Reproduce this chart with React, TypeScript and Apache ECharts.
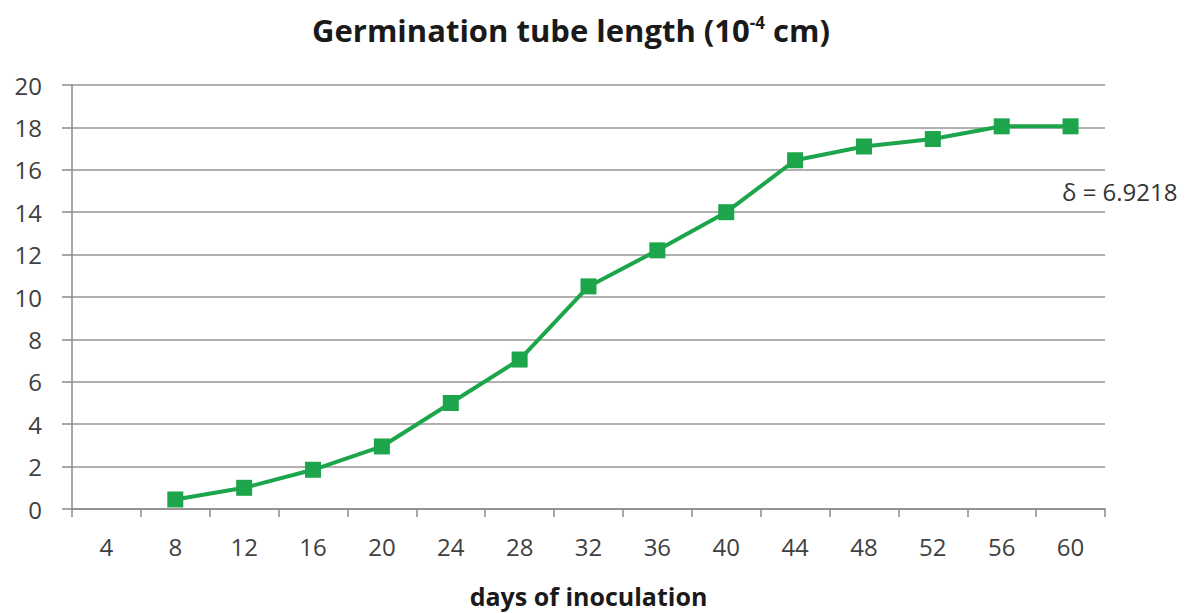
import React, { useEffect, useRef } from "react";
import * as echarts from "echarts";

const categories = ["4", "8", "12", "16", "20", "24", "28", "32", "36", "40", "44", "48", "52", "56", "60"];
const tubeLength: (number | null)[] = [null, 0.45, 1.0, 1.85, 2.95, 5.0, 7.05, 10.5, 12.2, 14.0, 16.45, 17.1, 17.45, 18.05, 18.05];
const annotationText = "δ = 6.9218";

export default function App() {
  const ref = useRef<HTMLDivElement>(null);
  useEffect(() => {
    if (!ref.current) return;
    const chart = echarts.init(ref.current, null, { renderer: "svg" });
    const font = "'Open Sans', Lato, sans-serif";
    chart.setOption({
      animation: false,
      backgroundColor: "#ffffff",
      title: {
        text: "{a|Germination tube length (10}{s|-4}{a| cm)}",
        left: 566,
        top: 9,
        textAlign: "center",
        textStyle: {
          rich: {
            a: { fontFamily: font, fontWeight: "bold", fontSize: 31, color: "#1a1a1a" },
            s: { fontFamily: font, fontWeight: "bold", fontSize: 17, color: "#1a1a1a", verticalAlign: "top", padding: [0, 0, 15, 0] },
          },
        },
      },
      graphic: [
        {
          type: "text",
          left: 1062,
          top: 179,
          style: { text: annotationText, fontFamily: font, fontSize: 24, fill: "#333333" },
        },
      ],
      grid: { left: 72, right: 87, top: 85, bottom: 103, containLabel: false },
      xAxis: {
        type: "category",
        data: categories,
        boundaryGap: true,
        name: "days of inoculation",
        nameLocation: "middle",
        nameGap: 74,
        nameTextStyle: { fontFamily: font, fontWeight: "bold", fontSize: 25, color: "#1a1a1a" },
        axisLine: { lineStyle: { color: "#8a8a8a", width: 1.5 } },
        axisTick: { show: true, length: 8, alignWithLabel: false, lineStyle: { color: "#8a8a8a", width: 1.5 } },
        axisLabel: { margin: 25, fontFamily: font, fontSize: 24, color: "#404040" },
        splitLine: { show: false },
      },
      yAxis: {
        type: "value",
        min: 0,
        max: 20,
        interval: 2,
        axisLine: { show: true, lineStyle: { color: "#8a8a8a", width: 1.5 } },
        axisTick: { show: true, inside: false, length: 10, lineStyle: { color: "#8a8a8a", width: 1.5 } },
        axisLabel: { margin: 30, fontFamily: font, fontSize: 24, color: "#404040" },
        splitLine: { show: true, lineStyle: { color: "#949494", width: 1.5 } },
      },
      series: [
        {
          type: "line",
          data: tubeLength,
          connectNulls: false,
          symbol: "rect",
          symbolSize: 16,
          lineStyle: { color: "#1ca54b", width: 4 },
          itemStyle: { color: "#1ca54b" },
        },
      ],
    });
    return () => chart.dispose();
  }, []);
  return <div ref={ref} style={{ position: "fixed", left: 0, top: 0, width: 1192, height: 613 }} />;
}
